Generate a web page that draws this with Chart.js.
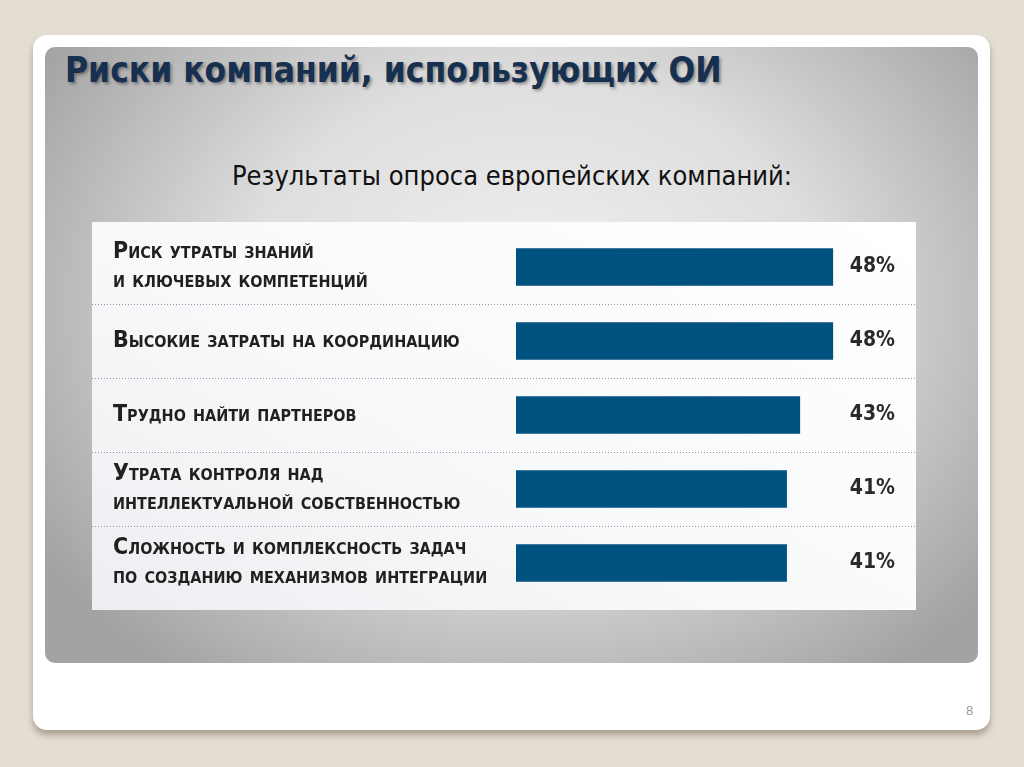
<!DOCTYPE html>
<html lang="ru">
<head>
<meta charset="utf-8">
<script src="https://cdn.jsdelivr.net/npm/chart.js@4/dist/chart.umd.min.js"></script>
<style>
  html, body { margin: 0; padding: 0; }
  body { width: 1024px; height: 767px; background: #e4ddd1; position: relative; overflow: hidden; font-family: 'DejaVu Sans', sans-serif; }
  .card { position: absolute; left: 33px; top: 35px; width: 957px; height: 695px; background: #fff; border-radius: 14px;
          box-shadow: 0 5px 6px rgba(120,110,95,0.55); }
  .panel { position: absolute; left: 45px; top: 47px; width: 933px; height: 616px; border-radius: 10px;
           background: radial-gradient(ellipse 62% 75% at 52% 42%, #f1f1f1 0%, #dedede 50%, #a3a3a3 100%); }
  .title { position: absolute; left: 65px; top: 50px; margin: 0; font: bold 35px 'DejaVu Sans Condensed', 'DejaVu Sans', sans-serif;
           color: #17304f; text-shadow: 2px 2px 3px rgba(0,0,0,0.35); white-space: nowrap; }
  .subtitle { position: absolute; left: 0; width: 1024px; top: 160px; text-align: center; font: 27px 'DejaVu Sans Condensed', sans-serif; color: #111; }
  .chart-box { position: absolute; left: 92px; top: 222px; width: 824px; height: 388px;
               background: linear-gradient(30deg, #eceef1 0%, #f8f9fa 45%, #ffffff 100%); }
  .page { position: absolute; left: 966px; top: 703px; font: 13px 'Liberation Sans', sans-serif; color: #999; }
</style>
</head>
<body>
<div class="card"></div>
<div class="panel"></div>
<h1 class="title">Риски компаний, использующих ОИ</h1>
<div class="subtitle">Результаты опроса европейских компаний:</div>
<div class="chart-box"><canvas id="risks-chart"></canvas></div>
<div class="page">8</div>

<script>
// Survey answers, share of companies (%)
const riskLabels = [
    ['Риск утраты знаний', 'и ключевых компетенций'],
    'Высокие затраты на координацию',
    'Трудно найти партнеров',
    ['Утрата контроля над', 'интеллектуальной собственностью'],
    ['Сложность и комплексность задач', 'по созданию механизмов интеграции'],
];
const riskShares = [48, 48, 43, 41, 41];

const LABEL_FONT = "'DejaVu Sans Condensed', sans-serif";

// dotted separators between rows, across the whole panel
const rowSeparators = {
    id: 'rowSeparators',
    beforeDatasetsDraw(chart) {
        const { ctx, width } = chart;
        const y = chart.scales.y;
        ctx.save();
        ctx.strokeStyle = '#8f959b';
        ctx.lineWidth = 1;
        ctx.setLineDash([1, 2]);
        for (let i = 1; i < riskLabels.length; i++) {
            const py = Math.round((y.getPixelForValue(i - 1) + y.getPixelForValue(i)) / 2) + 0.5;
            ctx.beginPath();
            ctx.moveTo(0, py);
            ctx.lineTo(width, py);
            ctx.stroke();
        }
        ctx.restore();
    }
};

// percent values in a column at the right
const valueLabels = {
    id: 'valueLabels',
    afterDatasetsDraw(chart) {
        const { ctx, chartArea } = chart;
        const meta = chart.getDatasetMeta(0);
        ctx.save();
        ctx.font = "bold 21px " + LABEL_FONT;
        ctx.fillStyle = '#2a2a2a';
        ctx.textAlign = 'right';
        ctx.textBaseline = 'middle';
        meta.data.forEach((bar, i) => {
            ctx.fillText(riskShares[i] + '%', chartArea.right - 17, bar.y);
        });
        ctx.restore();
    }
};

new Chart(document.getElementById('risks-chart'), {
    type: 'bar',
    data: {
        labels: riskLabels,
        datasets: [{
            data: riskShares,
            backgroundColor: '#00527f',
            borderWidth: 0,
            barThickness: 37,
        }],
    },
    options: {
        indexAxis: 'y',
        responsive: true, maintainAspectRatio: false,
        animation: false,
        layout: { padding: { left: 21, right: 4, top: 8, bottom: 10 } },
        plugins: { legend: { display: false }, tooltip: { enabled: false } },
        scales: {
            x: { display: false, min: 0, max: 60 },
            y: {
                border: { display: false },
                grid: { display: false },
                afterFit: s => { s.width = 403; s.paddingTop = 0; s.paddingBottom = 0; },
                ticks: {
                    crossAlign: 'far',
                    padding: 0,
                    color: '#231f20',
                    font: { family: LABEL_FONT, size: 23, weight: 'small-caps bold', lineHeight: 1.26 },
                },
            },
        },
    },
    plugins: [rowSeparators, valueLabels],
});
</script>
</body>
</html>
